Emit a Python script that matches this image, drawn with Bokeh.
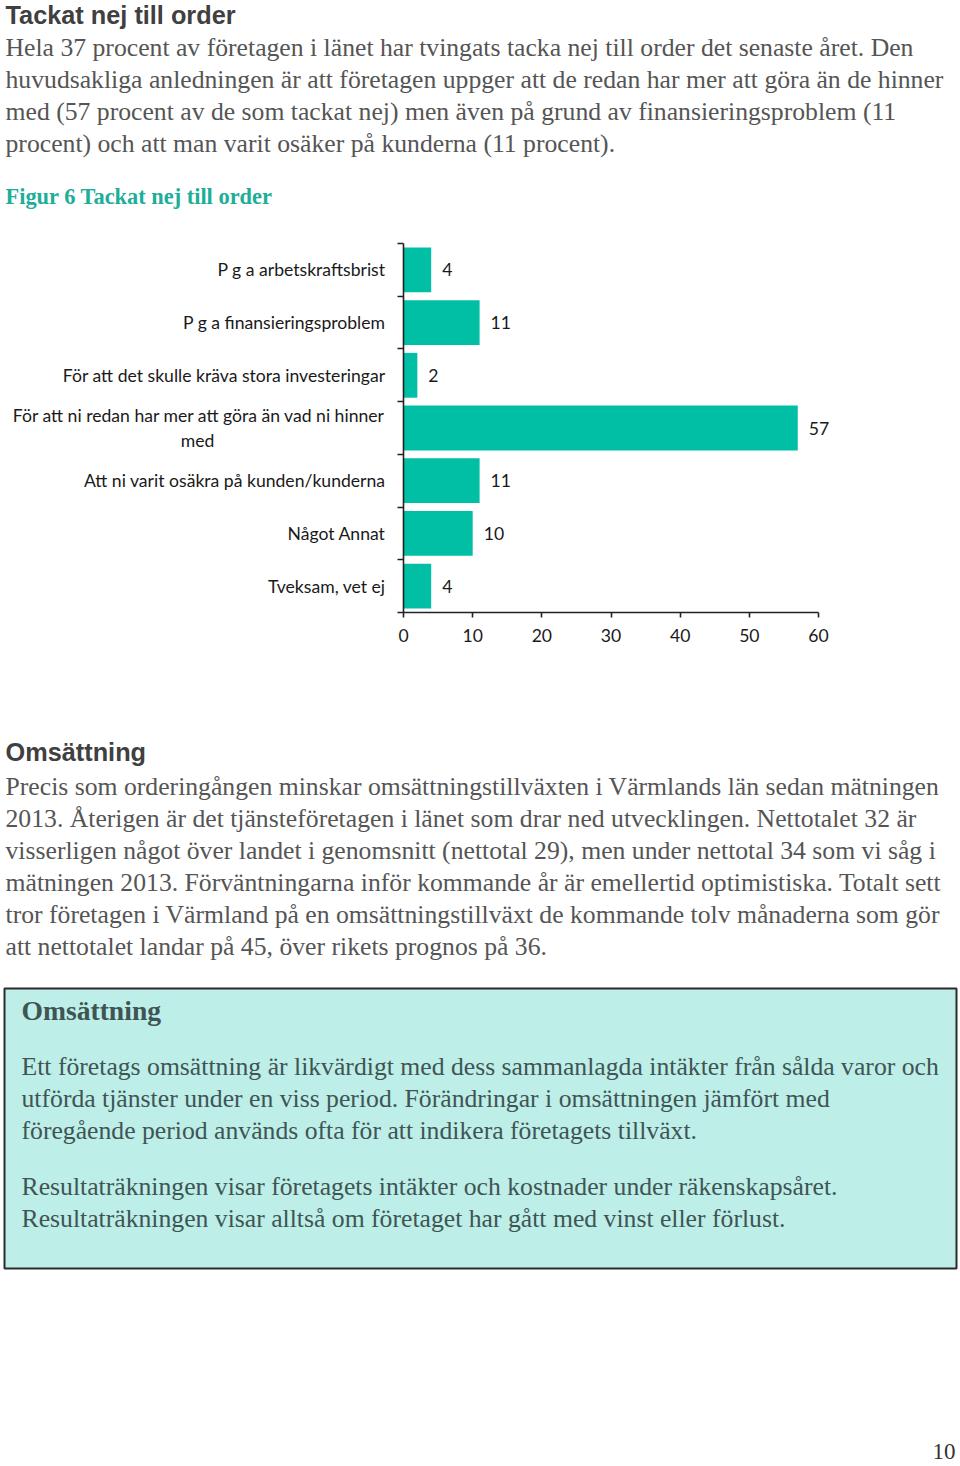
from bokeh.plotting import figure
from bokeh.layouts import column
from bokeh.models import Range1d, FixedTicker, LinearAxis
from bokeh.core.properties import value
from bokeh.embed import file_html
from bokeh.resources import INLINE

# ---------------- data ----------------
NB = "\u00a0"
categories = [
    "P g a arbetskraftsbrist",
    "P g a finansieringsproblem",
    "För att det skulle kräva stora investeringar",
    "För att ni redan har mer att göra än vad ni hinner\nmed" + NB * 38,
    "Att ni varit osäkra på kunden/kunderna",
    "Något Annat",
    "Tveksam, vet ej",
]
values = [4, 11, 2, 57, 11, 10, 4]
x_ticks = [0, 10, 20, 30, 40, 50, 60]

heading1 = "Tackat nej till order"
para1 = [
    "Hela 37 procent av företagen i länet har tvingats tacka nej till order det senaste året. Den",
    "huvudsakliga anledningen är att företagen uppger att de redan har mer att göra än de hinner",
    "med (57 procent av de som tackat nej) men även på grund av finansieringsproblem (11",
    "procent) och att man varit osäker på kunderna (11 procent).",
]
caption = "Figur 6 Tackat nej till order"
heading2 = "Omsättning"
para2 = [
    "Precis som orderingången minskar omsättningstillväxten i Värmlands län sedan mätningen",
    "2013. Återigen är det tjänsteföretagen i länet som drar ned utvecklingen. Nettotalet 32 är",
    "visserligen något över landet i genomsnitt (nettotal 29), men under nettotal 34 som vi såg i",
    "mätningen 2013. Förväntningarna inför kommande år är emellertid optimistiska. Totalt sett",
    "tror företagen i Värmland på en omsättningstillväxt de kommande tolv månaderna som gör",
    "att nettotalet landar på 45, över rikets prognos på 36.",
]
box_title = "Omsättning"
box_para1 = [
    "Ett företags omsättning är likvärdigt med dess sammanlagda intäkter från sålda varor och",
    "utförda tjänster under en viss period. Förändringar i omsättningen jämfört med",
    "föregående period används ofta för att indikera företagets tillväxt.",
]
box_para2 = [
    "Resultaträkningen visar företagets intäkter och kostnader under räkenskapsåret.",
    "Resultaträkningen visar alltså om företaget har gått med vinst eller förlust.",
]
page_number = "10"

# ---------------- styles ----------------
W = 960
SERIF = "Liberation Serif"
SANS = "Liberation Sans"
CHART_FONT = "Lato"
CHART_SIZE = "17.6px"
BODY = "#555555"
HEAD = "#404040"
TEAL = "#1dae98"
BAR = "#00bfa5"
AXIS = "#222222"
LABEL = "#1a1a1a"
BOX_FILL = "#bdeee8"
BOX_TEXT = "#3f5554"
BODY_SIZE = 25.7
LEAD = 32


def page_fig(h):
    p = figure(width=W, height=h, x_range=Range1d(0, W), y_range=Range1d(h, 0),
               output_backend="svg", toolbar_location=None,
               x_axis_location=None, y_axis_location=None, min_border=0)
    p.outline_line_color = None
    p.xgrid.visible = False
    p.ygrid.visible = False
    return p


def put(p, x, y, s, font, size, color, style="normal", align="left"):
    p.text(x=[x], y=[y], text=[s], text_font=value(font), text_font_size=f"{size}px",
           text_color=color, text_font_style=style, text_align=align,
           text_baseline="middle")


# ---------------- top text block (page y 0..230) ----------------
TOP_H = 230
top = page_fig(TOP_H)
put(top, 5, 14, heading1, SANS, 25.3, HEAD, "bold")
for i, line in enumerate(para1):
    put(top, 5, 47 + i * LEAD, line, SERIF, BODY_SIZE, BODY)
put(top, 5, 196, caption, SERIF, 22.4, TEAL, "bold")

# ---------------- chart (page y 230..690) ----------------
n = len(categories)
ys = list(range(n))
bounds = [i - 0.5 for i in range(n + 1)]

ch = figure(width=W, height=460,
            x_range=Range1d(-58.27, 80.53), y_range=Range1d(7.98, -0.747),
            output_backend="svg", toolbar_location=None,
            x_axis_location=None, y_axis_location=None, min_border=0)
ch.outline_line_color = None
ch.xgrid.visible = False
ch.ygrid.visible = False

ch.hbar(y=ys, left=0, right=values, height=0.85, fill_color=BAR, line_color=None)
ch.text(x=values, y=ys, text=[str(v) for v in values], x_offset=11,
        text_font=value(CHART_FONT), text_font_size=CHART_SIZE, text_color=LABEL,
        text_align="left", text_baseline="middle")

xaxis = LinearAxis(ticker=FixedTicker(ticks=x_ticks), bounds=(0, 60),
                   fixed_location=n - 0.5)
xaxis.axis_line_color = AXIS
xaxis.axis_line_width = 1.6
xaxis.major_tick_line_color = AXIS
xaxis.major_tick_line_width = 1.6
xaxis.major_tick_out = 5
xaxis.major_tick_in = 0
xaxis.minor_tick_line_color = None
xaxis.major_label_standoff = 12
xaxis.major_label_text_font = CHART_FONT
xaxis.major_label_text_font_size = CHART_SIZE
xaxis.major_label_text_color = LABEL
ch.add_layout(xaxis, "below")

yaxis = LinearAxis(ticker=FixedTicker(ticks=ys, minor_ticks=bounds),
                   bounds=(-0.5, n - 0.5), fixed_location=0,
                   major_label_overrides={i: c for i, c in zip(ys, categories)})
yaxis.axis_line_color = AXIS
yaxis.axis_line_width = 1.6
yaxis.major_tick_line_color = None
yaxis.major_tick_out = 0
yaxis.major_tick_in = 0
yaxis.minor_tick_line_color = AXIS
yaxis.minor_tick_line_width = 1.6
yaxis.minor_tick_out = 6
yaxis.minor_tick_in = 0
yaxis.major_label_standoff = 12
yaxis.major_label_text_font = CHART_FONT
yaxis.major_label_text_font_size = CHART_SIZE
yaxis.major_label_text_color = LABEL
ch.add_layout(yaxis, "left")

# ---------------- bottom text block (page y 690..1466) ----------------
BOT_H = 776
bot = page_fig(BOT_H)
off = 690
put(bot, 5, 751 - off, heading2, SANS, 25.3, HEAD, "bold")
for i, line in enumerate(para2):
    put(bot, 5, 786 + i * LEAD - off, line, SERIF, BODY_SIZE, BODY)

bot.quad(left=[4], right=[956], top=[988 - off], bottom=[1268 - off],
         fill_color=BOX_FILL, line_color="#2b2b2b", line_width=2)
put(bot, 21, 1010 - off, box_title, SERIF, 27.6, BOX_TEXT, "bold")
for i, line in enumerate(box_para1):
    put(bot, 21, 1066 + i * LEAD - off, line, SERIF, BODY_SIZE, BOX_TEXT)
for i, line in enumerate(box_para2):
    put(bot, 21, 1186 + i * LEAD - off, line, SERIF, BODY_SIZE, BOX_TEXT)

put(bot, 955, 1451 - off, page_number, SERIF, 23, "#333333", "normal", "right")

layout = column(top, ch, bot, spacing=0)
open("out.html", "w").write(file_html(layout, INLINE))
